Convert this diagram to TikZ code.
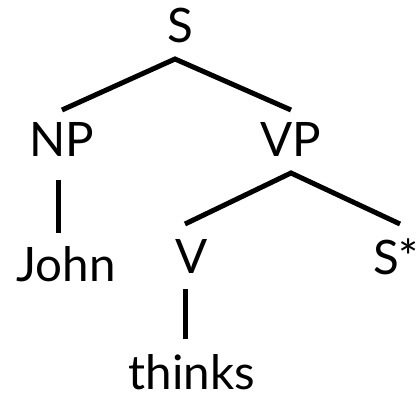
\documentclass[tikz,border=0pt]{standalone}
\usepackage{fontspec}
\setmainfont{Lato}
\usetikzlibrary{calc}
\begin{document}
\begin{tikzpicture}[x=1pt,y=-1pt,
  label/.style={inner sep=0pt,anchor=base,font=\fontsize{47.5}{50}\selectfont},
  branch/.style={line width=5pt,line cap=butt,line join=miter}]
\useasboundingbox (0,0) rectangle (417,395);
% tree labels, placed by baseline
\node[label] (S) at (180,43) {S};
\node[label] (NP) at (62,157) {NP};
\node[label] (VP) at (291,157) {VP};
\node[label] (John) at (66,281) {John};
\node[label] (V) at (192,273) {V};
\node[label,anchor=base west] (Sstar) at (373,274) {S*};
\node[label] (thinks) at (192,389) {thinks};
% branch end points, relative to the labels they join
\coordinate (S-foot) at ($(S.base)+(-5,16)$);
\coordinate (NP-head) at ($(NP.base)+(0,-47)$);
\coordinate (VP-head) at ($(VP.base)+(0,-47)$);
\coordinate (NP-foot) at ($(NP.base)+(-4,23)$);
\coordinate (John-head) at ($(John.base)+(-8,-48)$);
\coordinate (VP-foot) at ($(VP.base)+(0,16)$);
\coordinate (V-head) at ($(V.base)+(-7,-49)$);
\coordinate (Sstar-head) at ($(Sstar.base west)+(27,-50)$);
\coordinate (V-foot) at ($(V.base)+(-7,16)$);
\coordinate (thinks-head) at ($(thinks.base)+(-7,-50)$);
% branches
\draw[branch] (NP-head) -- (S-foot) -- (VP-head);
\draw[branch] (NP-foot) -- (John-head);
\draw[branch] (V-head) -- (VP-foot) -- (Sstar-head);
\draw[branch] (V-foot) -- (thinks-head);
\end{tikzpicture}
\end{document}
